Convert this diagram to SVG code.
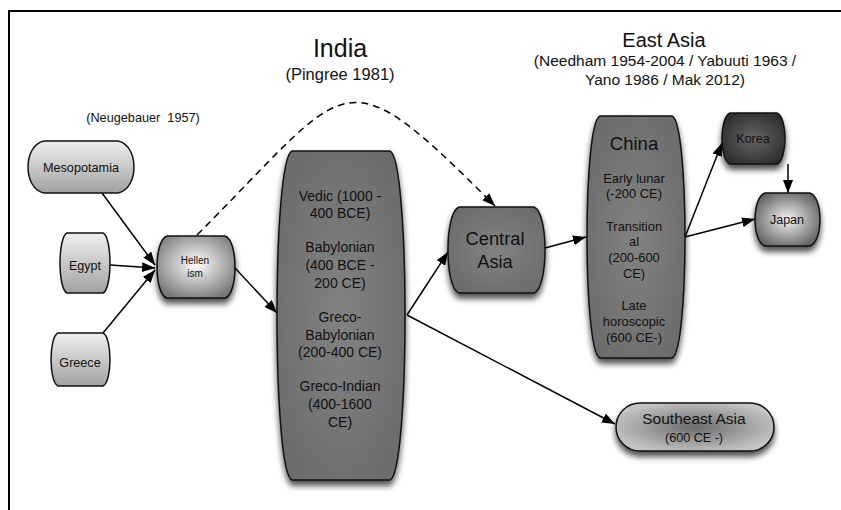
<svg xmlns="http://www.w3.org/2000/svg" width="841" height="510" viewBox="0 0 841 510">
<defs>
<style>
text{font-family:"Liberation Sans",Arial,sans-serif;text-anchor:middle}
.node{stroke:#111;stroke-width:1.5}
.sh{filter:url(#shadow)}
.edge{stroke:#000;stroke-width:1.5;fill:none;marker-end:url(#ah)}
.dash{stroke-dasharray:7 5}
</style>
<marker id="ah" markerUnits="userSpaceOnUse" markerWidth="14" markerHeight="10" refX="13" refY="5" orient="auto">
<path d="M0,0 L13,5 L0,10 Z" fill="#000"/>
</marker>
<linearGradient id="lightLin" x1="0" y1="0" x2="0" y2="1">
<stop offset="0" stop-color="#efefef"/><stop offset="1" stop-color="#a2a2a2"/>
</linearGradient>
<radialGradient id="hellRad" cx="0.5" cy="0.45" r="0.6">
<stop offset="0" stop-color="#ffffff"/><stop offset="1" stop-color="#7a7a7a"/>
</radialGradient>
<radialGradient id="darkRad" cx="0.5" cy="0.5" r="0.6">
<stop offset="0" stop-color="#828282"/><stop offset="1" stop-color="#6c6c6c"/>
</radialGradient>
<radialGradient id="koreaRad" cx="0.5" cy="0.5" r="0.6">
<stop offset="0" stop-color="#666666"/><stop offset="1" stop-color="#2c2c2c"/>
</radialGradient>
<radialGradient id="japanRad" cx="0.5" cy="0.5" r="0.6">
<stop offset="0" stop-color="#f4f4f4"/><stop offset="1" stop-color="#5c5c5c"/>
</radialGradient>
<radialGradient id="seRad" cx="0.5" cy="0.5" r="0.55">
<stop offset="0" stop-color="#6c6c6c"/><stop offset="1" stop-color="#c4c4c4"/>
</radialGradient>
<filter id="shadow" x="-20%" y="-20%" width="140%" height="150%" color-interpolation-filters="sRGB">
<feGaussianBlur in="SourceAlpha" stdDeviation="3"/>
<feOffset dx="0" dy="5" result="b"/>
<feComponentTransfer><feFuncA type="linear" slope="0.7"/></feComponentTransfer>
<feMerge><feMergeNode/><feMergeNode in="SourceGraphic"/></feMerge>
</filter>
</defs>
<rect x="0" y="0" width="841" height="510" fill="#ffffff"/>
<path d="M9,510 V11 H841" fill="none" stroke="#000" stroke-width="2"/>

<g id="titles" fill="#111111">
<text x="340" y="57" font-size="25">India</text>
<text x="340" y="80" font-size="16.5">(Pingree 1981)</text>
<text x="664" y="47" font-size="20">East Asia</text>
<text x="665" y="66" font-size="15.5">(Needham 1954-2004 / Yabuuti 1963 /</text>
<text x="665" y="85" font-size="15.5">Yano 1986 / Mak 2012)</text>
<text x="143" y="122" font-size="12.7">(Neugebauer&#160; 1957)</text>
</g>

<g id="connectors">
<path class="edge" d="M102,193 L155,265"/>
<path class="edge" d="M110,265 L155,268"/>
<path class="edge" d="M103,333 L155,270"/>
<path class="edge" d="M235,268 L277,313"/>
<path class="edge dash" d="M197,235 C353,79 339,50 495,206"/>
<path class="edge" d="M407,315 L448,252"/>
<path class="edge" d="M407,315 L615,424"/>
<path class="edge" d="M545,248 L586,237"/>
<path class="edge" d="M685,237 L722,143"/>
<path class="edge" d="M685,237 L755,219"/>
<path class="edge" d="M788,164 L788,193"/>
</g>

<g id="mesopotamia">
<path class="node" fill="url(#lightLin)" d="M44,141 H118 C139.3,145 139.3,189 118,193 H44 C22.7,189 22.7,145 44,141 Z"/>
<text x="81" y="172" font-size="12.7" fill="#111111">Mesopotamia</text>
</g>
<g id="egypt">
<path class="node" fill="url(#lightLin)" d="M67,233 H103 C112.3,237 112.3,289 103,293 H67 C57.7,289 57.7,237 67,233 Z"/>
<text x="85" y="270" font-size="12.5" fill="#111111">Egypt</text>
</g>
<g id="greece">
<path class="node" fill="url(#lightLin)" d="M58,333 H103 C112.3,337 112.3,382 103,386 H58 C48.7,382 48.7,337 58,333 Z"/>
<text x="80" y="367" font-size="12.6" fill="#111111">Greece</text>
</g>
<g id="hellenism">
<path class="node sh" fill="url(#hellRad)" d="M167,236 H225 C238.3,240 238.3,294 225,298 H167 C153.7,294 153.7,240 167,236 Z"/>
<text x="195" y="264" font-size="10" fill="#111111">Hellen</text>
<text x="195" y="277" font-size="10" fill="#111111">ism</text>
</g>
<g id="india">
<path class="node sh" fill="url(#darkRad)" d="M292,151 H390 C410,159 410,472 390,480 H292 C272,472 272,159 292,151 Z"/>
<g fill="#111111" font-size="14">
<text x="340" y="201">Vedic (1000 -</text>
<text x="340" y="218">400 BCE)</text>
<text x="340" y="252">Babylonian</text>
<text x="340" y="270">(400 BCE -</text>
<text x="340" y="288">200 CE)</text>
<text x="340" y="322">Greco-</text>
<text x="340" y="340">Babylonian</text>
<text x="340" y="357">(200-400 CE)</text>
<text x="340" y="391">Greco-Indian</text>
<text x="340" y="409">(400-1600</text>
<text x="340" y="427">CE)</text>
</g>
</g>
<g id="central-asia">
<path class="node sh" fill="url(#darkRad)" d="M459,207 H534 C548.7,212 548.7,288 534,293 H459 C444.3,288 444.3,212 459,207 Z"/>
<text x="495" y="245" font-size="18.3" fill="#111111">Central</text>
<text x="495" y="268" font-size="18.3" fill="#111111">Asia</text>
</g>
<g id="china">
<path class="node sh" fill="url(#darkRad)" d="M600,116 H672 C689.3,122 689.3,352 672,358 H600 C582.7,352 582.7,122 600,116 Z"/>
<g fill="#111111" font-size="12.9">
<text x="634" y="150" font-size="18.5">China</text>
<text x="634" y="183">Early lunar</text>
<text x="634" y="198">(-200 CE)</text>
<text x="634" y="231">Transition</text>
<text x="634" y="246">al</text>
<text x="634" y="262">(200-600</text>
<text x="634" y="278">CE)</text>
<text x="634" y="310">Late</text>
<text x="634" y="326">horoscopic</text>
<text x="634" y="342">(600 CE-)</text>
</g>
</g>
<g id="korea">
<path class="node sh" fill="url(#koreaRad)" d="M730,113 H777 C787.7,117 787.7,160 777,164 H730 C719.3,160 719.3,117 730,113 Z"/>
<text x="753" y="143" font-size="12.5" fill="#111111">Korea</text>
</g>
<g id="japan">
<path class="node sh" fill="url(#japanRad)" d="M765,193 H810 C823.3,197 823.3,242 810,246 H765 C751.7,242 751.7,197 765,193 Z"/>
<text x="787" y="224" font-size="12.5" fill="#111111">Japan</text>
</g>
<g id="southeast-asia">
<rect class="node sh" fill="url(#seRad)" x="616" y="403" width="158" height="48" rx="24" ry="24"/>
<text x="694" y="424" font-size="15.5" fill="#111111">Southeast Asia</text>
<text x="694" y="442" font-size="12.6" fill="#111111">(600 CE -)</text>
</g>
</svg>
